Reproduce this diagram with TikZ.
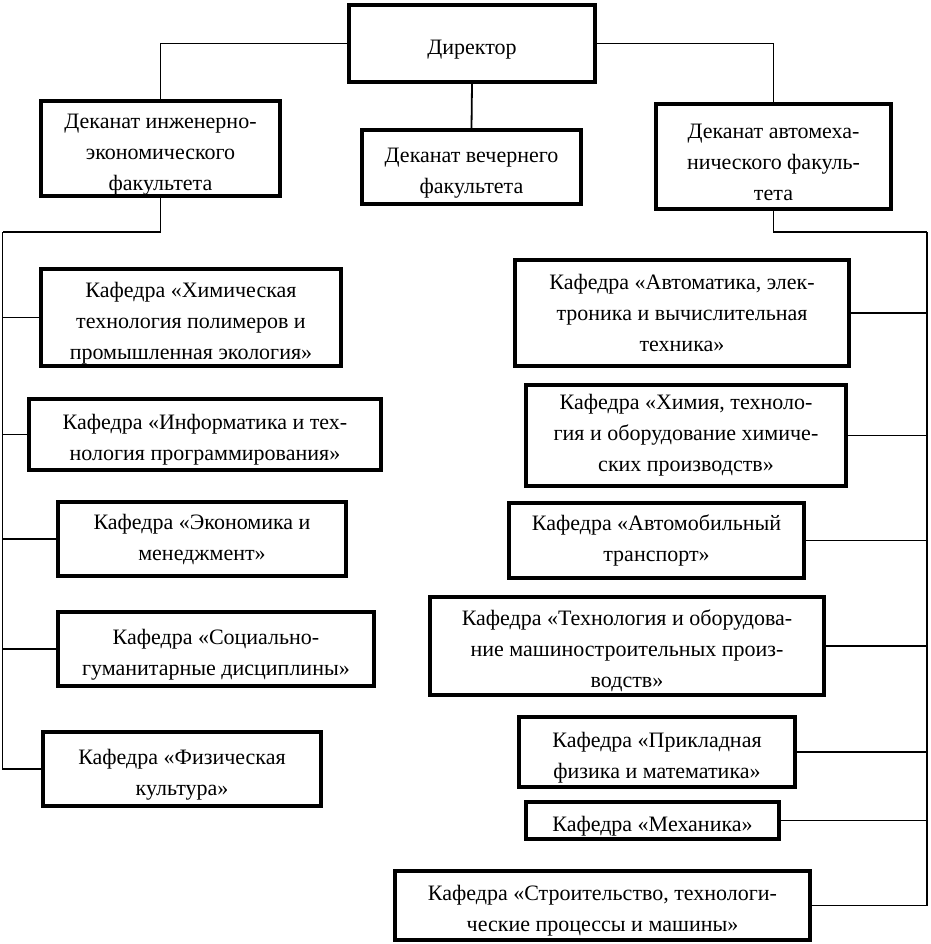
\documentclass[tikz,border=0pt]{standalone}
\usepackage{fontspec}
\setmainfont{Liberation Serif}
\newcommand\lowr{\rule{0pt}{26pt}}
\begin{document}
\begin{tikzpicture}[x=1pt,y=-1pt,
  box/.style={draw=black, line width=4pt, fill=white, inner sep=0pt, align=center,
    font=\fontsize{22}{31}\selectfont},
  conn/.style={draw=black, line width=1.8pt}]
\useasboundingbox[fill=white] (0,0) rectangle (930,944);
% top level
\node[box, minimum width=246pt, minimum height=77pt] (dir) at (472,43.5) {\lowr Директор};
\node[box, minimum width=239pt, minimum height=95pt] (ld) at (160.5,148.5) {\lowr Деканат инженерно-\\экономического\\факультета};
\node[box, minimum width=219pt, minimum height=74pt] (md) at (471.5,167) {\lowr Деканат вечернего\\факультета};
\node[box, minimum width=235pt, minimum height=105pt] (rd) at (773.5,156.5) {\lowr Деканат автомеха-\\нического факуль-\\тета};
% left departments
\node[box, minimum width=300pt, minimum height=97pt] (l1) at (191,317.5) {\lowr Кафедра «Химическая\\технология полимеров и\\промышленная экология»};
\node[box, minimum width=352pt, minimum height=71pt] (l2) at (205,434.5) {\lowr Кафедра «Информатика и тех-\\нология программирования»};
\node[box, minimum width=288pt, minimum height=74pt] (l3) at (202,539) {Кафедра «Экономика и\\менеджмент»};
\node[box, minimum width=316pt, minimum height=74pt] (l4) at (216,649) {\lowr Кафедра «Социально-\\гуманитарные дисциплины»};
\node[box, minimum width=278pt, minimum height=74pt] (l5) at (182,769) {\lowr Кафедра «Физическая\\культура»};
% right departments
\node[box, minimum width=334pt, minimum height=106pt] (r1) at (682,313) {Кафедра «Автоматика, элек-\\троника и вычислительная\\техника»};
\node[box, minimum width=320pt, minimum height=101pt] (r2) at (686,435.5) {Кафедра «Химия, техноло-\\гия и оборудование химиче-\\ских производств»};
\node[box, minimum width=295pt, minimum height=75pt] (r3) at (656.5,540.5) {Кафедра «Автомобильный\\транспорт»};
\node[box, minimum width=394pt, minimum height=98pt] (r4) at (627,646) {\lowr Кафедра «Технология и оборудова-\\ние машиностроительных произ-\\водств»};
\node[box, minimum width=276pt, minimum height=70pt] (r5) at (657,752) {\lowr Кафедра «Прикладная\\физика и математика»};
\node[box, minimum width=253pt, minimum height=37pt] (r6) at (652.5,820.5) {\lowr Кафедра «Механика»};
\node[box, minimum width=415pt, minimum height=69pt] (r7) at (602.5,905.5) {\lowr Кафедра «Строительство, технологи-\\ческие процессы и машины»};
% trunk corners
\coordinate (lt) at (2.5,232);
\coordinate (rt) at (927,232);
% connectors
\draw[conn] (dir.west) -| (ld.north);
\draw[conn] (dir.east) -| (rd.north);
\draw[conn] (dir.south) -- (md.north);
\draw[conn] (ld.south) |- (lt);
\draw[conn] (rd.south) |- (rt);
\draw[conn] (lt) |- (l5.west);
\draw[conn] (rt) |- (r7.east);
\foreach \n in {l1,l2,l3,l4} \draw[conn] (lt |- \n.west) -- (\n.west);
\foreach \n in {r1,r2,r3,r4,r5,r6} \draw[conn] (rt |- \n.east) -- (\n.east);
\end{tikzpicture}
\end{document}
